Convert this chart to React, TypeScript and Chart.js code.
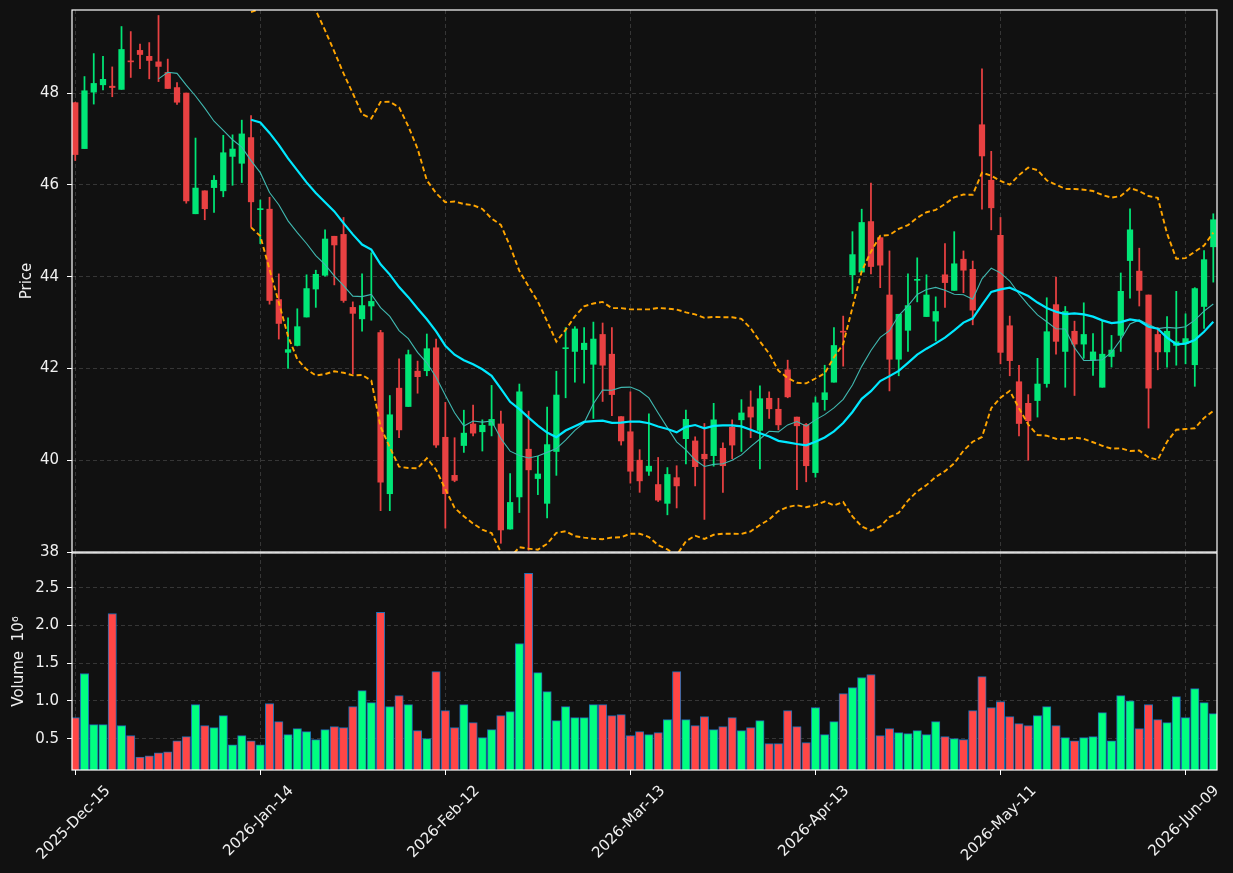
import React, { useEffect, useRef } from "react";
import { Chart, registerables } from "chart.js";

Chart.register(...registerables);

const tickIndex = [0, 20, 40, 60, 80, 100, 120];
const tickLabels = ["2025-Dec-15", "2026-Jan-14", "2026-Feb-12", "2026-Mar-13", "2026-Apr-13", "2026-May-11", "2026-Jun-09"];
const priceTicks = [38, 40, 42, 44, 46, 48];
const volumeTicks = [0.5, 1.0, 1.5, 2.0, 2.5];

const opens = [
  47.79, 46.79, 48.02, 48.18, 48.15, 48.08, 48.69, 48.93, 48.80, 48.68,
  48.45, 48.12, 48.00, 45.37, 45.87, 45.94, 45.87, 46.62, 46.47, 47.03,
  45.46, 45.47, 43.50, 42.35, 42.50, 43.12, 43.73, 44.03, 44.88, 44.92,
  43.33, 43.08, 43.36, 42.78, 39.27, 41.57, 41.17, 41.94, 41.95, 42.45,
  40.50, 39.67, 40.32, 40.79, 40.62, 40.76, 40.79, 38.50, 39.20, 40.24,
  39.60, 39.06, 40.19, 42.43, 42.37, 42.41, 42.09, 42.74, 42.31, 40.95,
  40.62, 40.00, 39.76, 39.47, 39.06, 39.62, 40.47, 40.42, 40.13, 40.10,
  40.26, 40.72, 40.88, 41.16, 40.65, 41.35, 41.11, 41.97, 40.94, 40.78,
  39.73, 41.32, 41.70, 42.81, 44.04, 44.10, 45.20, 44.85, 43.60, 42.20,
  42.83, 43.92, 43.13, 43.03, 44.04, 43.70, 44.38, 44.16, 47.31, 46.10,
  44.90, 42.93, 41.71, 41.24, 41.30, 41.67, 43.39, 42.37, 42.81, 42.53,
  42.18, 41.59, 42.26, 42.72, 44.35, 44.12, 43.60, 42.74, 42.36, 42.50,
  42.54, 42.08, 43.35, 44.65,
];
const highs = [
  47.80, 48.36, 48.86, 48.80, 48.57, 49.45, 49.34, 49.07, 49.10, 49.69,
  48.74, 48.23, 48.00, 47.02, 45.87, 46.20, 47.08, 47.09, 47.41, 47.51,
  45.67, 45.73, 44.06, 43.10, 43.30, 44.04, 44.14, 45.02, 44.88, 45.29,
  43.45, 44.06, 44.52, 42.83, 41.41, 42.21, 42.40, 42.16, 42.75, 42.64,
  41.26, 40.49, 41.09, 41.20, 40.88, 41.63, 41.07, 39.71, 41.66, 41.07,
  40.09, 41.16, 41.94, 42.89, 42.91, 42.89, 43.01, 42.99, 42.89, 40.95,
  41.49, 40.23, 41.01, 40.06, 39.84, 39.88, 41.09, 40.51, 40.80, 41.24,
  40.38, 40.88, 41.32, 41.51, 41.62, 41.49, 41.35, 42.18, 40.94, 40.80,
  41.38, 42.07, 42.89, 43.14, 44.98, 45.47, 46.04, 44.85, 44.56, 43.18,
  44.06, 44.41, 44.04, 43.56, 44.72, 44.98, 44.56, 44.34, 48.53, 46.73,
  45.29, 43.14, 42.07, 41.43, 42.22, 43.54, 43.99, 43.35, 43.03, 43.43,
  42.76, 43.04, 42.72, 44.08, 45.48, 44.62, 43.60, 42.89, 43.13, 43.68,
  43.19, 43.76, 44.57, 45.37,
];
const lows = [
  46.53, 46.79, 47.76, 48.07, 47.92, 48.08, 48.34, 48.53, 48.31, 48.25,
  48.10, 47.75, 45.60, 45.37, 45.24, 45.40, 45.74, 45.99, 46.05, 45.08,
  44.72, 43.40, 42.64, 42.00, 42.49, 43.12, 43.33, 44.01, 43.82, 43.44,
  41.88, 42.81, 43.05, 38.90, 38.90, 40.49, 41.17, 41.46, 41.84, 40.28,
  38.52, 39.53, 40.17, 40.53, 40.20, 40.53, 38.19, 38.50, 38.86, 38.04,
  39.25, 38.74, 39.67, 41.36, 41.70, 41.68, 40.91, 41.28, 40.97, 40.33,
  39.50, 39.30, 39.67, 39.10, 38.81, 38.96, 39.92, 39.44, 38.71, 39.87,
  39.30, 40.03, 40.19, 40.49, 39.81, 40.91, 40.66, 41.36, 39.36, 39.53,
  39.63, 41.09, 41.70, 42.05, 43.63, 44.10, 44.06, 43.76, 41.51, 41.84,
  42.37, 43.45, 43.13, 42.60, 43.33, 43.70, 43.65, 42.95, 45.47, 45.02,
  42.10, 41.84, 40.53, 40.00, 40.94, 41.59, 42.31, 41.59, 41.41, 42.22,
  41.85, 41.59, 42.03, 42.37, 43.53, 43.36, 40.70, 41.97, 42.03, 42.07,
  42.10, 41.61, 42.87, 43.88,
];
const closes = [
  46.66, 48.05, 48.21, 48.30, 48.12, 48.95, 48.68, 48.84, 48.71, 48.58,
  48.10, 47.80, 45.65, 45.93, 45.48, 46.10, 46.70, 46.78, 47.11, 45.63,
  45.48, 43.48, 42.98, 42.41, 42.91, 43.74, 44.05, 44.82, 44.69, 43.48,
  43.20, 43.37, 43.46, 39.52, 40.99, 40.66, 42.30, 41.82, 42.43, 40.33,
  39.27, 39.56, 40.59, 40.59, 40.76, 40.89, 38.48, 39.08, 41.49, 39.79,
  39.70, 40.34, 41.42, 42.44, 42.86, 42.55, 42.64, 42.07, 41.43, 40.42,
  39.76, 39.55, 39.87, 39.13, 39.69, 39.44, 40.89, 39.86, 40.03, 40.88,
  39.88, 40.33, 41.03, 40.94, 41.34, 41.12, 40.77, 41.38, 40.75, 39.88,
  41.25, 41.47, 42.50, 42.79, 44.48, 45.18, 44.22, 44.25, 42.20, 43.18,
  43.37, 43.94, 43.60, 43.24, 43.87, 44.28, 44.14, 43.27, 46.63, 45.50,
  42.35, 42.17, 40.80, 40.86, 41.66, 42.80, 42.59, 43.24, 42.53, 42.74,
  42.36, 42.31, 42.40, 43.68, 45.02, 43.70, 41.57, 42.36, 42.81, 42.58,
  42.65, 43.74, 44.37, 45.24,
];
const volumes = [
  0.779, 1.363, 0.686, 0.686, 2.159, 0.673, 0.54, 0.257, 0.274, 0.314,
  0.327, 0.473, 0.527, 0.951, 0.673, 0.646, 0.805, 0.42, 0.54, 0.473,
  0.42, 0.965, 0.726, 0.553, 0.633, 0.593, 0.487, 0.619, 0.659, 0.646,
  0.925, 1.137, 0.978, 2.173, 0.925, 1.071, 0.951, 0.606, 0.50, 1.389,
  0.872, 0.646, 0.951, 0.712, 0.513, 0.619, 0.805, 0.858, 1.761, 2.69,
  1.376, 1.124, 0.739, 0.925, 0.779, 0.779, 0.951, 0.951, 0.805, 0.819,
  0.54, 0.593, 0.553, 0.58, 0.752, 1.389, 0.752, 0.673, 0.792, 0.619,
  0.659, 0.779, 0.606, 0.646, 0.739, 0.434, 0.434, 0.872, 0.659, 0.447,
  0.912, 0.553, 0.726, 1.097, 1.177, 1.31, 1.35, 0.54, 0.633, 0.58,
  0.566, 0.606, 0.553, 0.726, 0.527, 0.50, 0.487, 0.872, 1.323, 0.912,
  0.991, 0.792, 0.699, 0.673, 0.805, 0.925, 0.673, 0.513, 0.473, 0.513,
  0.527, 0.845, 0.473, 1.071, 1.0, 0.633, 0.951, 0.752, 0.712, 1.058,
  0.779, 1.164, 0.978, 0.832,
];

const BG = "#111111";
const TEXT = "#f0f0f0";
const GRID = "rgba(255,255,255,0.2)";
const UP = "#00e676";
const DOWN = "#e84142";
const VOL_UP = "#00ff80";
const VOL_DOWN = "#ff4646";
const FONT = "'DejaVu Sans', sans-serif";
const FONT_SIZE = 15;
const X_MIN = -0.35;
const X_MAX = 123.4;

function movingAverage(period: number) {
  const out: { x: number; y: number }[] = [];
  for (let i = period - 1; i < closes.length; i++) {
    let s = 0;
    for (let j = i - period + 1; j <= i; j++) s += closes[j];
    out.push({ x: i, y: s / period });
  }
  return out;
}

function bollinger(period: number, k: number, sign: number) {
  const out: { x: number; y: number }[] = [];
  for (let i = period - 1; i < closes.length; i++) {
    let s = 0;
    for (let j = i - period + 1; j <= i; j++) s += closes[j];
    const m = s / period;
    let v = 0;
    for (let j = i - period + 1; j <= i; j++) v += (closes[j] - m) ** 2;
    out.push({ x: i, y: m + sign * k * Math.sqrt(v / period) });
  }
  return out;
}

const frame = {
  id: "frame",
  afterDraw(chart: any) {
    const { ctx, chartArea: a } = chart;
    ctx.save();
    ctx.strokeStyle = "#ffffff";
    ctx.lineWidth = 1.2;
    ctx.strokeRect(a.left, a.top, a.right - a.left, a.bottom - a.top);
    ctx.restore();
  },
};

const xLabels = {
  id: "xLabels",
  afterDraw(chart: any) {
    const { ctx, chartArea: a } = chart;
    const xs = chart.scales.x;
    ctx.save();
    ctx.font = `${FONT_SIZE}px ${FONT}`;
    ctx.fillStyle = TEXT;
    ctx.textAlign = "center";
    ctx.textBaseline = "middle";
    tickIndex.forEach((v, k) => {
      const label = tickLabels[k];
      const px = xs.getPixelForValue(v);
      const w = ctx.measureText(label).width;
      const h = (w + 13) * Math.SQRT1_2;
      const cy = a.bottom + 14 + h / 2;
      ctx.save();
      ctx.translate(px - 1.5, cy);
      ctx.rotate(-Math.PI / 4);
      ctx.fillText(label, 0, 0);
      ctx.restore();
    });
    ctx.restore();
  },
};

const upColor = (i: number) => (closes[i] >= opens[i] ? UP : DOWN);
const volColor = (i: number) => (closes[i] >= opens[i] ? VOL_UP : VOL_DOWN);

function xScale(forVolume: boolean) {
  return {
    type: "linear",
    min: X_MIN,
    max: X_MAX,
    offset: false,
    afterBuildTicks: (s: any) => {
      s.ticks = tickIndex.map((v) => ({ value: v }));
    },
    afterFit: (s: any) => {
      s.height = forVolume ? 103 : 0;
      s.paddingLeft = 0;
      s.paddingRight = 0;
    },
    ticks: { display: false },
    grid: {
      offset: false,
      color: GRID,
      lineWidth: 0.8,
      drawTicks: forVolume,
      tickLength: 5,
      tickColor: "#ffffff",
      tickWidth: 1,
    },
    border: { display: false, dash: [4, 3] },
  };
}

function yScale(min: number, max: number, ticks: number[], title: string, titlePad: number, fmt: (v: number) => string) {
  return {
    type: "linear",
    min,
    max,
    afterBuildTicks: (s: any) => {
      s.ticks = ticks.map((v) => ({ value: v }));
    },
    afterFit: (s: any) => {
      s.width = 72;
      s.paddingTop = 0;
      s.paddingBottom = 0;
    },
    ticks: {
      color: TEXT,
      font: { family: FONT, size: FONT_SIZE },
      padding: 8,
      callback: (v: any) => fmt(Number(v)),
    },
    grid: {
      color: GRID,
      lineWidth: 0.8,
      drawTicks: true,
      tickLength: 5,
      tickColor: "#ffffff",
      tickWidth: 1,
    },
    border: { display: false, dash: [4, 3] },
    title: {
      display: true,
      text: title,
      color: TEXT,
      font: { family: FONT, size: FONT_SIZE },
      padding: { top: titlePad, bottom: 0 },
    },
  };
}

export default function App() {
  const priceRef = useRef<HTMLCanvasElement>(null);
  const volRef = useRef<HTMLCanvasElement>(null);

  useEffect(() => {
    document.body.style.margin = "0";
    document.body.style.background = BG;

    const idx = closes.map((_, i) => i);
    const priceChart = new Chart(priceRef.current as HTMLCanvasElement, {
      type: "bar",
      data: {
        datasets: [
          {
            type: "line",
            label: "SMA 20",
            data: movingAverage(20),
            borderColor: "#00e8ff",
            borderWidth: 2.2,
            pointRadius: 0,
            tension: 0,
            order: 0,
            clip: 0,
          },
          {
            type: "line",
            label: "SMA 10",
            data: movingAverage(10),
            borderColor: "#40b8b0",
            borderWidth: 1.1,
            pointRadius: 0,
            tension: 0,
            order: 0,
            clip: 0,
          },
          {
            type: "line",
            label: "Upper band",
            data: bollinger(20, 2, 1),
            borderColor: "#ffa500",
            borderWidth: 1.9,
            borderDash: [5, 3],
            pointRadius: 0,
            tension: 0,
            order: 0,
            clip: 0,
          },
          {
            type: "line",
            label: "Lower band",
            data: bollinger(20, 2, -1),
            borderColor: "#ffa500",
            borderWidth: 1.9,
            borderDash: [5, 3],
            pointRadius: 0,
            tension: 0,
            order: 0,
            clip: 0,
          },
          {
            type: "bar",
            label: "Body",
            data: idx.map((i) => ({ x: i, y: [Math.min(opens[i], closes[i]), Math.max(opens[i], closes[i])] })),
            backgroundColor: idx.map(upColor),
            barThickness: 5.6,
            minBarLength: 1,
            grouped: false,
            order: 1,
            clip: 0,
          },
          {
            type: "bar",
            label: "Wick",
            data: idx.map((i) => ({ x: i, y: [lows[i], highs[i]] })),
            backgroundColor: idx.map(upColor),
            barThickness: 1.1,
            grouped: false,
            order: 2,
            clip: 0,
          },
        ],
      } as any,
      options: {
        animation: false,
        responsive: false,
        devicePixelRatio: 1,
        events: [],
        layout: { padding: { left: 0, right: 16, top: 10, bottom: 13 } },
        plugins: { legend: { display: false }, tooltip: { enabled: false } },
        scales: {
          x: xScale(false),
          y: yScale(38, 49.81, priceTicks, "Price", 18, (v) => String(Math.round(v))),
        },
      } as any,
      plugins: [frame],
    });

    const volChart = new Chart(volRef.current as HTMLCanvasElement, {
      type: "bar",
      data: {
        datasets: [
          {
            label: "Volume",
            data: idx.map((i) => ({ x: i, y: volumes[i] })),
            backgroundColor: idx.map(volColor),
            borderColor: "#1f6fb4",
            borderWidth: 1,
            barThickness: 8.4,
            grouped: false,
            clip: 0,
          },
        ],
      } as any,
      options: {
        animation: false,
        responsive: false,
        devicePixelRatio: 1,
        events: [],
        layout: { padding: { left: 0, right: 16, top: 5, bottom: 0 } },
        plugins: { legend: { display: false }, tooltip: { enabled: false } },
        scales: {
          x: xScale(true),
          y: yScale(0.085, 2.96, volumeTicks, "Volume  10\u2076", 10.5, (v) => v.toFixed(1)),
        },
      } as any,
      plugins: [frame, xLabels],
    });

    return () => {
      priceChart.destroy();
      volChart.destroy();
    };
  }, []);

  return (
    <div style={{ position: "relative", width: 1233, height: 873, background: BG, overflow: "hidden" }}>
      <canvas ref={priceRef} width={1233} height={565} style={{ position: "absolute", left: 0, top: 0 }} />
      <canvas ref={volRef} width={1233} height={325} style={{ position: "absolute", left: 0, top: 548 }} />
    </div>
  );
}
